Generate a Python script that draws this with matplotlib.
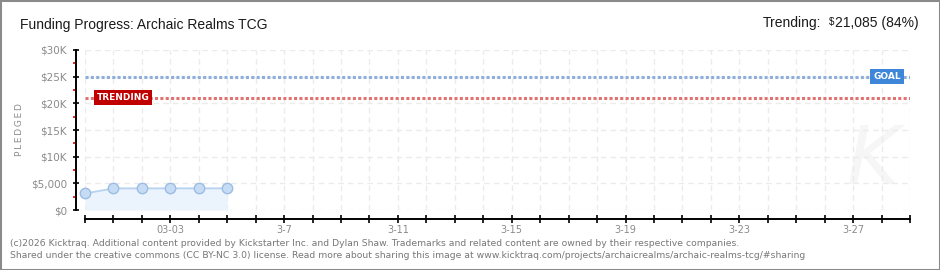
import matplotlib
matplotlib.use("Agg")
import matplotlib.pyplot as plt
import matplotlib.dates as mdates
from matplotlib.patches import Rectangle
from matplotlib.ticker import FixedLocator, FuncFormatter
import pandas as pd

# data
dates = ["2026-02-28", "2026-03-01", "2026-03-02", "2026-03-03", "2026-03-04", "2026-03-05"]
pledged = [3100, 4050, 4050, 4060, 4060, 4060]
goal = 25000
trending = 21085
trending_pct = 84
x_start, x_end = "2026-02-28", "2026-03-29"
x_labels = {"2026-03-03": "03-03", "2026-03-07": "3-7", "2026-03-11": "3-11",
            "2026-03-15": "3-15", "2026-03-19": "3-19", "2026-03-23": "3-23",
            "2026-03-27": "3-27"}
y_ticks = [0, 5000, 10000, 15000, 20000, 25000, 30000]
y_labels = ["$0", "$5,000", "$10K", "$15K", "$20K", "$25K", "$30K"]

HEAD = ["Liberation Sans", "DejaVu Sans"]
GRAY = "#8a8a8a"

fig = plt.figure(figsize=(9.4, 2.7), dpi=100)
W, H = 940, 270
ax = fig.add_axes([85 / W, 60 / H, 825 / W, 160 / H])

x = mdates.date2num(pd.to_datetime(dates))
x0 = mdates.date2num(pd.Timestamp(x_start))
x1 = mdates.date2num(pd.Timestamp(x_end))

# faint watermark
ax.text(0.955, 0.3, "K", transform=ax.transAxes, fontsize=58, style="italic",
        color="#f6f6f6", ha="center", va="center", zorder=0.5)

ax.fill_between(x, pledged, 0, color="#ebf3fd", zorder=2, lw=0)
ax.plot(x, pledged, color="#b7d2ef", lw=1.3, marker="o", ms=7.5,
        mfc="#c6dcf4", mec="#9dbce2", mew=1, zorder=4, clip_on=False)

ax.axhline(goal, color="#8eaedb", lw=2.2, ls=(0, (1.0, 0.75)), zorder=3)
ax.axhline(trending, color="#e07272", lw=2.2, ls=(0, (1.0, 0.75)), zorder=3)

ax.text(11.5 / 825, trending, "TRENDING", transform=ax.get_yaxis_transform(),
        color="white", fontsize=6.5, fontweight="bold",
        ha="left", va="center", zorder=5,
        bbox=dict(boxstyle="square,pad=0.3", fc="#c00000", ec="none"))
ax.text(802 / 825, goal, "GOAL", transform=ax.get_yaxis_transform(),
        color="white", fontsize=6.5, fontweight="bold",
        ha="center", va="center", zorder=5,
        bbox=dict(boxstyle="square,pad=0.3", fc="#3d86d8", ec="none"))

ax.set_xlim(x0, x1)
ax.set_ylim(0, 30000)

day_ticks = [x0 + i for i in range(int(x1 - x0) + 1)]
ax.xaxis.set_major_locator(FixedLocator(day_ticks))
label_map = {round(mdates.date2num(pd.Timestamp(k))): v for k, v in x_labels.items()}
ax.xaxis.set_major_formatter(FuncFormatter(lambda v, p: label_map.get(round(v), "")))

ax.yaxis.set_major_locator(FixedLocator(y_ticks))
ax.set_yticklabels(y_labels)
ax.yaxis.set_minor_locator(FixedLocator([t + 2500 for t in y_ticks[:-1]]))

ax.grid(True, which="major", color="#ebebeb", ls=(0, (4, 3)), lw=1, zorder=1)
ax.set_axisbelow(True)

for side in ["top", "right"]:
    ax.spines[side].set_visible(False)
ax.spines["left"].set_position(("outward", 6.5))
ax.spines["bottom"].set_position(("outward", 6.5))
ax.spines["left"].set_bounds(0, 30000)
ax.spines["bottom"].set_bounds(x0, x1)
ax.spines["left"].set_linewidth(1.4)
ax.spines["bottom"].set_linewidth(1.4)

ax.tick_params(axis="x", which="major", direction="inout", length=6, width=1.2,
               color="black", labelcolor=GRAY, labelsize=7, pad=1)
ax.tick_params(axis="y", which="major", direction="inout", length=5, width=1.2,
               color="black", labelcolor=GRAY, labelsize=7.5, pad=4)
ax.tick_params(axis="y", which="minor", direction="out", length=2.5, width=1.2,
               color="#e00000")

fig.text(20 / W, 1 - 130 / H, "\u2009".join("PLEDGED"), rotation=90, color=GRAY,
         fontsize=6.5, ha="center", va="center")

fig.text(20 / W, 1 - 29 / H, "Funding Progress: Archaic Realms TCG", family=HEAD,
         fontsize=10, color="#1a1a1a", ha="left", va="baseline")

amount = fig.text(919 / W, 1 - 27 / H, f"{trending:,} ({trending_pct}%)", family=HEAD,
                  fontsize=10, color="#1a1a1a", ha="right", va="baseline")
ax.annotate("$", xy=(0, 1), xycoords=amount, xytext=(-1, -0.5),
            textcoords="offset points", ha="right", va="top",
            family=HEAD, fontsize=7, color="#1a1a1a", annotation_clip=False)
ax.annotate("Trending:", xy=(0, 0), xycoords=amount, xytext=(-10, 0),
            textcoords="offset points", ha="right", va="bottom",
            family=HEAD, fontsize=10, color="#1a1a1a", annotation_clip=False)

footer = ("(c)2026 Kicktraq. Additional content provided by Kickstarter Inc. and Dylan Shaw. "
          "Trademarks and related content are owned by their respective companies.\n"
          "Shared under the creative commons (CC BY-NC 3.0) license. Read more about sharing "
          "this image at www.kicktraq.com/projects/archaicrealms/archaic-realms-tcg/#sharing")
fig.text(10 / W, 1 - 249.5 / H, footer, fontsize=6.7, color="#777777", ha="left",
         va="center", linespacing=1.35)

fig.add_artist(Rectangle((0, 0), 1, 1, transform=fig.transFigure, fill=False,
                         ec="#8a8a8a", lw=2.2))

fig.savefig("out.png", dpi=100)
